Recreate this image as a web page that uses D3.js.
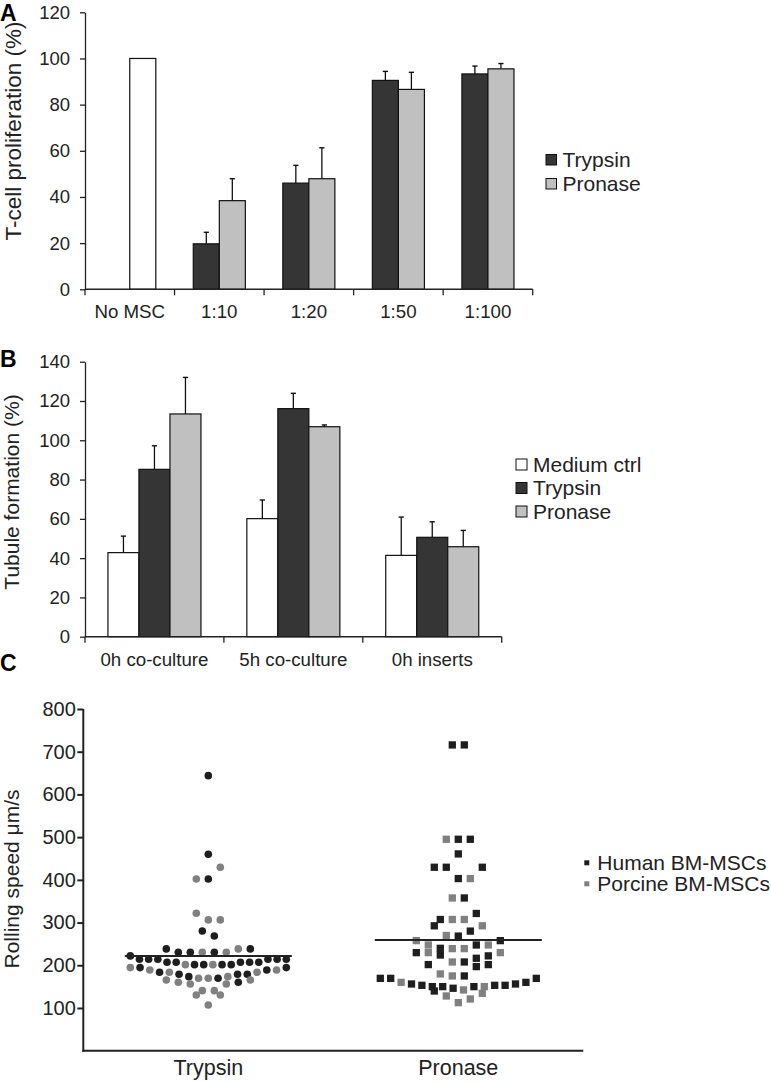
<!DOCTYPE html>
<html><head><meta charset="utf-8">
<script src="https://cdn.jsdelivr.net/npm/d3@7"></script>
<style>
body{margin:0;background:#fff}
text{font-family:"Liberation Sans",Arial,Helvetica,sans-serif;fill:#222}
</style>
</head><body>
<svg id="chart" width="771" height="1082"></svg>
<script>
// ---------- Panel A data ----------
const catsA = ["No MSC", "1:10", "1:20", "1:50", "1:100"];
const seriesA = ["Trypsin", "Pronase"];
const controlA = [100, null, null, null, null];
const trypsinA = [null, 19.7, 46.0, 90.5, 93.3];
const trypsinErrA = [null, 5.0, 7.7, 3.9, 3.4];
const pronaseA = [null, 38.4, 47.9, 86.6, 95.5];
const pronaseErrA = [null, 9.5, 13.4, 7.4, 2.3];
const ticksA = [0, 20, 40, 60, 80, 100, 120];

// ---------- Panel B data ----------
const catsB = ["0h co-culture", "5h co-culture", "0h inserts"];
const seriesB = ["Medium ctrl", "Trypsin", "Pronase"];
const mediumB = [42.8, 60.1, 41.4];
const mediumErrB = [8.4, 9.5, 19.5];
const trypsinB = [85.2, 116.1, 50.6];
const trypsinErrB = [12.0, 7.8, 7.9];
const pronaseB = [113.4, 106.9, 45.8];
const pronaseErrB = [18.6, 0.9, 8.3];
const ticksB = [0, 20, 40, 60, 80, 100, 120, 140];

// ---------- Panel C data ----------
const catsC = ["Trypsin", "Pronase"];
const speciesC = ["Human BM-MSCs", "Porcine BM-MSCs"];
const ticksC = [100, 200, 300, 400, 500, 600, 700, 800];
const meanC = [222, 259];
// rolling speed (µm/s), grouped in dot-plot rows, left to right; H = human, P = porcine
const trypsinRows = [
  [[644, "H"]],
  [[460, "H"]],
  [[402, "P"], [402, "H"], [429.6, "P"]],
  [[321.8, "P"], [306.2, "P"], [306.2, "P"]],
  [[280.4, "H"], [268.7, "H"]],
  [[238.3, "H"], [230.5, "H"], [230.5, "H"], [230.5, "P"], [230.5, "H"], [230.5, "P"], [238.3, "P"], [238.3, "H"]],
  [[221.9, "H"], [214.1, "H"], [214.1, "H"], [214.1, "H"], [207, "H"], [207, "H"], [201.5, "P"], [201.5, "H"], [201.5, "H"],
   [201.5, "P"], [201.5, "H"], [201.5, "H"], [207, "H"], [207, "H"], [207, "H"], [214.1, "H"], [214.1, "H"], [214.1, "H"]],
  [[194.5, "P"], [194.5, "H"], [189, "P"], [183.6, "H"], [183.6, "P"], [179, "H"], [173.4, "H"], [169.6, "P"], [169.6, "P"],
   [169.6, "H"], [173.4, "P"], [179, "H"], [179, "H"], [183.6, "P"], [189, "H"], [189, "P"], [194.5, "H"]],
  [[165.6, "P"], [160.2, "P"], [156.3, "P"], [140.6, "P"], [140.6, "P"], [156.3, "P"], [160.2, "H"], [165.6, "P"]],
  [[130.5, "P"], [107, "P"], [130.5, "P"]]
];
const pronaseRows = [
  [[715.9, "H"], [715.9, "H"]],
  [[495, "P"], [495, "H"], [495, "H"]],
  [[460.7, "H"]],
  [[429.5, "H"], [429.5, "H"], [403, "H"], [403, "P"], [429.5, "H"]],
  [[357.6, "P"], [357.6, "H"]],
  [[307.2, "H"], [307.2, "P"], [307.2, "P"], [321.3, "H"]],
  [[292.4, "H"], [269.8, "P"], [268.3, "H"], [280, "H"], [292.4, "P"]],
  [[257.7, "P"], [247.5, "P"], [239.7, "H"], [239, "P"], [239, "P"], [247.5, "H"], [247.5, "P"], [257.7, "H"]],
  [[229.6, "H"], [229.6, "P"], [224, "H"], [207.7, "P"], [207.7, "H"], [216.4, "H"], [222, "H"], [229.6, "P"]],
  [[201.6, "H"], [179.7, "P"], [175, "P"], [175, "H"], [196.9, "H"], [201.6, "H"]],
  [[169.4, "H"], [169.4, "H"], [160, "P"], [156.2, "H"], [153.1, "H"], [150, "H"], [150, "H"], [146.2, "H"],
   [142.3, "P"], [150, "H"], [150, "P"], [153.1, "H"], [153.1, "H"], [156.2, "H"], [160, "H"], [169.4, "H"]],
  [[139.8, "H"], [128.1, "P"], [112.5, "P"], [121.1, "P"], [134.4, "P"]]
];

// ---------- styles ----------
const DARK = "#353535", LIGHT = "#c0c0c0", WHITE = "#ffffff", INK = "#222";
const HUMAN = "#1e1e1e", PORCINE = "#808080";
const svg = d3.select("#chart");

function styleAxis(g, w) {
  g.select(".domain").attr("stroke", INK).attr("stroke-width", w);
  g.selectAll(".tick line").attr("stroke", INK).attr("stroke-width", w);
}

function panelLetter(t, y) {
  svg.append("text").attr("x", 0).attr("y", y).attr("font-size", 23).attr("font-weight", "bold")
    .style("fill", "#000").text(t);
}

function yTitle(t, x, y, size) {
  svg.append("text").attr("transform", `translate(${x},${y}) rotate(-90)`)
    .attr("text-anchor", "middle").attr("font-size", size).text(t);
}

function barPanel(opt) {
  const { cats, x0, x1, yBottom, yTop, domainMax, ticks, subKeys, barSeries, sub } = opt;
  const x = d3.scaleBand().domain(cats).range([x0, x1]).padding(0);
  const xs = d3.scaleBand().domain(subKeys).range([0, x.bandwidth()]).paddingInner(0).paddingOuter(sub);
  const y = d3.scaleLinear().domain([0, domainMax]).range([yBottom, yTop]);
  const g = svg.append("g");

  barSeries.forEach(s => {
    const data = cats.map((c, i) => ({ c, v: s.values[i], e: s.err ? s.err[i] : null })).filter(d => d.v != null);
    g.selectAll(null).data(data).enter().append("rect")
      .attr("x", d => x(d.c) + xs(s.slot))
      .attr("y", d => y(d.v))
      .attr("width", xs.bandwidth())
      .attr("height", d => y(0) - y(d.v))
      .attr("fill", s.color).attr("stroke", "#111").attr("stroke-width", 1.2);
    const ed = data.filter(d => d.e != null);
    const cx = d => x(d.c) + xs(s.slot) + xs.bandwidth() / 2;
    g.selectAll(null).data(ed).enter().append("line")
      .attr("x1", cx).attr("x2", cx)
      .attr("y1", d => y(d.v)).attr("y2", d => y(d.v + d.e))
      .attr("stroke", "#111").attr("stroke-width", 1.3);
    g.selectAll(null).data(ed).enter().append("line")
      .attr("x1", d => cx(d) - 2.6).attr("x2", d => cx(d) + 2.6)
      .attr("y1", d => y(d.v + d.e)).attr("y2", d => y(d.v + d.e))
      .attr("stroke", "#111").attr("stroke-width", 1.4);
  });

  const ya = svg.append("g").attr("transform", `translate(${x0},0)`)
    .call(d3.axisLeft(y).tickValues(ticks).tickSize(5).tickSizeOuter(0).tickPadding(10));
  ya.selectAll("text").attr("font-size", 18.5).style("fill", INK).attr("font-family", null);
  styleAxis(ya, 1.3);

  const xa = svg.append("g");
  xa.append("line").attr("x1", x0).attr("x2", x1).attr("y1", yBottom).attr("y2", yBottom)
    .attr("stroke", INK).attr("stroke-width", 1.4);
  const bounds = cats.map(c => x(c)).concat([x1]);
  xa.selectAll(null).data(bounds).enter().append("line")
    .attr("x1", d => d).attr("x2", d => d).attr("y1", yBottom).attr("y2", yBottom + 6)
    .attr("stroke", INK).attr("stroke-width", 1.3);
  xa.selectAll(null).data(cats).enter().append("text")
    .attr("x", d => x(d) + x.bandwidth() / 2).attr("y", opt.labelY)
    .attr("text-anchor", "middle").attr("font-size", 18.7).text(d => d);
  return { x, y };
}

// ---------- Panel A ----------
panelLetter("A", 21);
barPanel({
  cats: catsA, x0: 85, x1: 532.7, yBottom: 289.3, yTop: 12.3, domainMax: 120, ticks: ticksA,
  subKeys: seriesA, sub: 0.72, labelY: 318,
  barSeries: [
    { slot: "Pronase", values: controlA, err: null, color: WHITE },
    { slot: "Trypsin", values: trypsinA, err: trypsinErrA, color: DARK },
    { slot: "Pronase", values: pronaseA, err: pronaseErrA, color: LIGHT }
  ]
});
yTitle("T-cell proliferation (%)", 21, 131, 22.5);
const legA = svg.append("g");
const legAColors = [DARK, LIGHT];
seriesA.forEach((s, i) => {
  legA.append("rect").attr("x", 546).attr("y", 154.5 + i * 24).attr("width", 10.5).attr("height", 10.5)
    .attr("fill", legAColors[i]).attr("stroke", "#111").attr("stroke-width", 1);
  legA.append("text").attr("x", 562.5).attr("y", 167 + i * 24).attr("font-size", 21).text(s);
});

// ---------- Panel B ----------
panelLetter("B", 367);
barPanel({
  cats: catsB, x0: 85, x1: 501.7, yBottom: 636.7, yTop: 361.7, domainMax: 140, ticks: ticksB,
  subKeys: seriesB, sub: 0.74, labelY: 666,
  barSeries: [
    { slot: "Medium ctrl", values: mediumB, err: mediumErrB, color: WHITE },
    { slot: "Trypsin", values: trypsinB, err: trypsinErrB, color: DARK },
    { slot: "Pronase", values: pronaseB, err: pronaseErrB, color: LIGHT }
  ]
});
yTitle("Tubule formation (%)", 18.5, 492, 21);
const legB = svg.append("g");
const legBColors = [WHITE, DARK, LIGHT];
seriesB.forEach((s, i) => {
  legB.append("rect").attr("x", 516).attr("y", 459 + i * 23.5).attr("width", 11).attr("height", 11)
    .attr("fill", legBColors[i]).attr("stroke", "#111").attr("stroke-width", 1);
  legB.append("text").attr("x", 533).attr("y", 471.5 + i * 23.5).attr("font-size", 21).text(s);
});

// ---------- Panel C ----------
panelLetter("C", 671);
const xC = d3.scaleBand().domain(catsC).range([83.3, 583.3]).padding(0);
const yC = d3.scaleLinear().domain([0, 800]).range([1050.7, 709]);
const gC = svg.append("g");

function layoutRows(rows, cat) {
  const cx = xC(cat) + xC.bandwidth() / 2;
  const pts = [];
  rows.forEach(row => {
    const n = row.length;
    const step = n > 1 ? Math.min(12, 156 / (n - 1)) : 0;
    row.forEach((p, j) => pts.push({ v: p[0], sp: p[1], x: cx + (j - (n - 1) / 2) * step }));
  });
  return pts;
}
const ptsT = layoutRows(trypsinRows, "Trypsin");
const ptsP = layoutRows(pronaseRows, "Pronase");

gC.selectAll(null).data(ptsT).enter().append("circle")
  .attr("cx", d => d.x).attr("cy", d => yC(d.v)).attr("r", 3.8)
  .attr("fill", d => d.sp === "H" ? HUMAN : PORCINE);
const sq = 7.3;
gC.selectAll(null).data(ptsP).enter().append("rect")
  .attr("x", d => d.x - sq / 2).attr("y", d => yC(d.v) - sq / 2).attr("width", sq).attr("height", sq)
  .attr("fill", d => d.sp === "H" ? HUMAN : PORCINE);

gC.selectAll(null).data(catsC).enter().append("line")
  .attr("x1", d => xC(d) + xC.bandwidth() / 2 - 83.5)
  .attr("x2", d => xC(d) + xC.bandwidth() / 2 + 83.5)
  .attr("y1", (d, i) => yC(meanC[i])).attr("y2", (d, i) => yC(meanC[i]))
  .attr("stroke", "#222").attr("stroke-width", 2);

const yaC = svg.append("g").attr("transform", "translate(83.3,0)")
  .call(d3.axisLeft(yC).tickValues(ticksC).tickSize(6).tickSizeOuter(0).tickPadding(1.5));
yaC.selectAll("text").attr("font-size", 20).style("fill", INK).attr("font-family", null);
styleAxis(yaC, 2);
yaC.select(".domain").remove();
yaC.append("line").attr("x1", 0).attr("x2", 0).attr("y1", yC(800)).attr("y2", yC(0) + 1)
  .attr("stroke", INK).attr("stroke-width", 2);
svg.append("line").attr("x1", 82.3).attr("x2", 583.3).attr("y1", yC(0)).attr("y2", yC(0))
  .attr("stroke", INK).attr("stroke-width", 2);
svg.selectAll(null).data(catsC).enter().append("text")
  .attr("x", d => xC(d) + xC.bandwidth() / 2).attr("y", 1075)
  .attr("text-anchor", "middle").attr("font-size", 21.5).text(d => d);
yTitle("Rolling speed \u03bcm/s", 19, 879, 21);

const legC = svg.append("g");
const legCColors = [HUMAN, PORCINE];
speciesC.forEach((s, i) => {
  legC.append("rect").attr("x", 584.3).attr("y", 860.3 + i * 21).attr("width", 5).attr("height", 5)
    .attr("fill", legCColors[i]);
  legC.append("text").attr("x", 597.3).attr("y", 870 + i * 21).attr("font-size", 21).text(s);
});
</script>
</body></html>
